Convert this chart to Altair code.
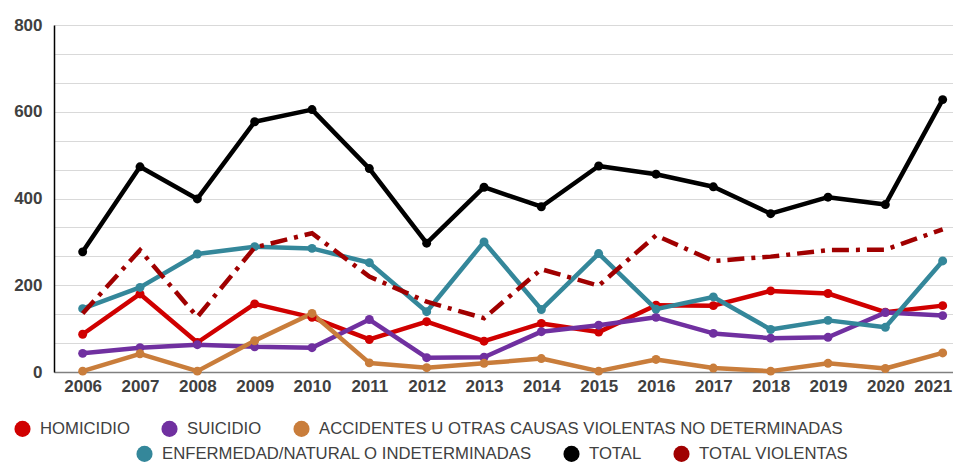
import altair as alt
import pandas as pd

years = list(range(2006, 2022))
homicidio = [87, 180, 68, 157, 126, 75, 116, 71, 112, 92, 154, 153, 187, 181, 138, 153]
suicidio = [43, 56, 63, 58, 56, 121, 33, 34, 93, 108, 126, 89, 78, 80, 137, 130]
accidentes = [2, 42, 2, 72, 135, 21, 10, 20, 31, 2, 29, 9, 2, 20, 8, 44]
enfermedad = [146, 195, 272, 289, 285, 252, 139, 300, 144, 273, 145, 173, 98, 119, 103, 256]
total = [277, 473, 399, 577, 605, 469, 297, 426, 381, 475, 456, 427, 365, 403, 386, 628]
total_violentas = [135, 281, 127, 287, 320, 220, 162, 124, 237, 199, 315, 256, 266, 281, 282, 329]

group_a = ["HOMICIDIO", "SUICIDIO", "ACCIDENTES U OTRAS CAUSAS VIOLENTAS NO DETERMINADAS"]
group_b = ["ENFERMEDAD/NATURAL O INDETERMINADAS", "TOTAL", "TOTAL VIOLENTAS"]
colors_a = ["#d00000", "#7030a0", "#c97d3b"]
colors_b = ["#34879a", "#000000", "#a00000"]

series = dict(zip(group_a + group_b,
                  [homicidio, suicidio, accidentes, enfermedad, total, total_violentas]))

rows = []
for name, vals in series.items():
    for y, v in zip(years, vals):
        rows.append({"year": y, "serie": name, "value": v})
df = pd.DataFrame(rows)

df_a = df[df.serie.isin(group_a)]
df_b = df[df.serie.isin(group_b[:2])]
df_v = df[df.serie == "TOTAL VIOLENTAS"]

FONT = "Liberation Sans"

x = alt.X("year:Q",
          scale=alt.Scale(domain=[2005.5, 2021.18], nice=False, zero=False),
          axis=alt.Axis(values=years, format="d", grid=False, ticks=False, title=None,
                        labelFontSize=17, labelFontWeight="bold", labelColor="#404040",
                        labelFont=FONT, domainColor="#808080", domainWidth=1.5,
                        labelPadding=6, labelOverlap=False, labelFlush=False,
                        labelOffset={"condition": {"test": "datum.value == 2021", "value": -10},
                                     "value": 0}))
y = alt.Y("value:Q",
          scale=alt.Scale(domain=[0, 800], nice=False),
          axis=alt.Axis(values=[i * 200 / 3 for i in range(13)],
                        labelExpr="abs(datum.value - round(datum.value/200)*200) < 1 ? format(datum.value, 'd') : ''",
                        grid=True, gridColor="#d9d9d9", gridWidth=1, ticks=False,
                        domainColor="#000000", domainWidth=1.5, title=None,
                        labelPadding=12, labelFontSize=17, labelFontWeight="bold",
                        labelColor="#404040", labelFont=FONT, labelOverlap=False))

stroke = alt.Stroke("serie:N",
                    scale=alt.Scale(domain=group_a + group_b, range=colors_a + colors_b),
                    legend=None)

legend_common = dict(orient="none", direction="horizontal", title=None, symbolType="circle",
                     symbolSize=260, labelFontSize=16.7, labelFont=FONT, labelColor="#404040",
                     columnPadding=31, labelOffset=9, padding=0, symbolStrokeWidth=0,
                     symbolOpacity=1, columns=3, labelLimit=0)

line_a = alt.Chart(df_a).mark_line(strokeWidth=4.5, strokeJoin="round", strokeCap="round").encode(
    x=x, y=y, stroke=stroke)
point_a = alt.Chart(df_a).mark_circle(size=80, opacity=1).encode(
    x=x, y=y,
    color=alt.Color("serie:N",
                    scale=alt.Scale(domain=group_a, range=colors_a),
                    legend=alt.Legend(legendX=-40, legendY=395, **legend_common)))
line_b = alt.Chart(df_b).mark_line(strokeWidth=4.5, strokeJoin="round", strokeCap="round").encode(
    x=x, y=y, stroke=stroke)
point_b = alt.Chart(df_b).mark_circle(size=80, opacity=1).encode(
    x=x, y=y,
    fill=alt.Fill("serie:N",
                  scale=alt.Scale(domain=group_b, range=colors_b),
                  legend=alt.Legend(legendX=82, legendY=420, **legend_common)))
line_v = alt.Chart(df_v).mark_line(strokeWidth=4.5, strokeDash=[17, 7, 4, 7]).encode(
    x=x, y=y, stroke=stroke)

chart = alt.layer(line_a, point_a, line_b, point_b, line_v).properties(
    width=899, height=347,
    padding={"left": 46, "top": 17, "right": 0, "bottom": 91},
    autosize=alt.AutoSizeParams(type="none"),
).configure_view(stroke=None)

chart.save("out.html", embed_options={"renderer": "svg", "actions": False})
